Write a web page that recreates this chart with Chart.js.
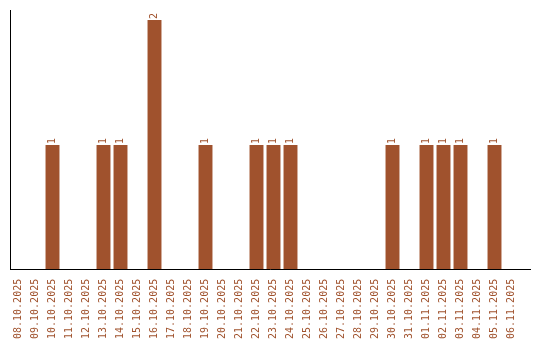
<!DOCTYPE html>
<html>
<head>
<meta charset="utf-8">
<script src="https://cdn.jsdelivr.net/npm/chart.js@4.4.1/dist/chart.umd.min.js"></script>
<style>
  html, body { margin: 0; padding: 0; background: #fff; }
  #chart { display: block; }
</style>
</head>
<body>
<canvas id="chart" width="540" height="340"></canvas>
<script>
// Data
const dates = [
    '08.10.2025', '09.10.2025', '10.10.2025', '11.10.2025', '12.10.2025',
    '13.10.2025', '14.10.2025', '15.10.2025', '16.10.2025', '17.10.2025',
    '18.10.2025', '19.10.2025', '20.10.2025', '21.10.2025', '22.10.2025',
    '23.10.2025', '24.10.2025', '25.10.2025', '26.10.2025', '27.10.2025',
    '28.10.2025', '29.10.2025', '30.10.2025', '31.10.2025', '01.11.2025',
    '02.11.2025', '03.11.2025', '04.11.2025', '05.11.2025', '06.11.2025'
];
const counts = [
    0, 0, 1, 0, 0, 1, 1, 0, 2, 0,
    0, 1, 0, 0, 1, 1, 1, 0, 0, 0,
    0, 0, 1, 0, 1, 1, 1, 0, 1, 0
];
const yMax = 2.08;

const barColor = '#a0522d';
const monoFont = { family: "'DejaVu Sans Mono', monospace", size: 10 };

// value labels above bars, rotated like the tick labels
const valueLabels = {
    id: 'valueLabels',
    afterDatasetsDraw(chart) {
        const ctx = chart.ctx;
        const meta = chart.getDatasetMeta(0);
        ctx.save();
        ctx.fillStyle = barColor;
        ctx.font = `${monoFont.size}px ${monoFont.family}`;
        ctx.textAlign = 'left';
        ctx.textBaseline = 'middle';
        meta.data.forEach((bar, i) => {
            if (!counts[i]) return;
            ctx.save();
            ctx.translate(bar.x, bar.y - 1);
            ctx.rotate(-Math.PI / 2);
            ctx.fillText(String(counts[i]), 0, 0);
            ctx.restore();
        });
        ctx.restore();
    }
};

// x axis line, running a bit past the last category
const xAxisLine = {
    id: 'xAxisLine',
    afterDraw(chart) {
        const { ctx, chartArea } = chart;
        const y = Math.round(chartArea.bottom - 0.5) + 0.5;
        ctx.save();
        ctx.strokeStyle = '#000';
        ctx.lineWidth = 1;
        ctx.beginPath();
        ctx.moveTo(chartArea.left, y);
        ctx.lineTo(chartArea.right + 11, y);
        ctx.stroke();
        ctx.restore();
    }
};

new Chart(document.getElementById('chart'), {
    type: 'bar',
    data: {
        labels: dates,
        datasets: [{
            data: counts,
            backgroundColor: barColor,
            borderWidth: 0,
            barPercentage: 0.82,
            categoryPercentage: 1
        }]
    },
    options: {
        responsive: false,
        animation: false,
        layout: {
            padding: { top: 10, left: 2, right: 20, bottom: 0 }
        },
        plugins: {
            legend: { display: false },
            tooltip: { enabled: false }
        },
        scales: {
            x: {
                grid: { display: false },
                border: { display: false },
                ticks: {
                    color: barColor,
                    font: monoFont,
                    minRotation: 90,
                    maxRotation: 90,
                    autoSkip: false,
                    padding: 1
                }
            },
            y: {
                min: 0,
                max: yMax,
                grid: { display: false },
                border: { display: true, color: '#000', width: 1 },
                ticks: { display: false }
            }
        }
    },
    plugins: [valueLabels, xAxisLine]
});
</script>
</body>
</html>
